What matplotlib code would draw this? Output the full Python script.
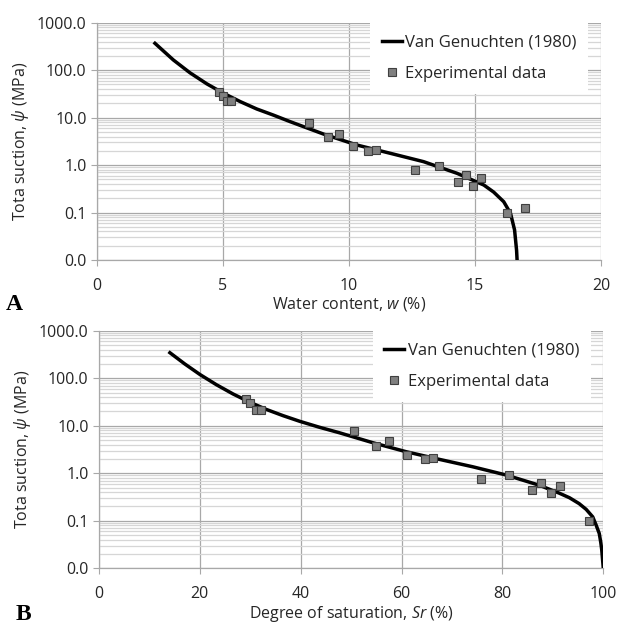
import numpy as np
import matplotlib
matplotlib.use("Agg")
import matplotlib.pyplot as plt
from matplotlib.ticker import FixedLocator, FuncFormatter, LogLocator, NullFormatter

# -----------------------------------------------------
# Data
# -----------------------------------------------------
# Panel A: suction vs water content
w_curve = [2.3, 3.03, 3.69, 4.36, 5.02, 5.68, 6.34, 7.0, 7.67, 8.99, 10.31,
           11.64, 12.96, 14.29, 15.35, 15.74, 16.14, 16.41, 16.57, 16.65, 16.67]
psi_curve_a = [368, 164, 88, 51.4, 32.6, 21.8, 15.2, 11.3, 8.2, 4.5, 2.65,
               1.77, 1.18, 0.67, 0.38, 0.27, 0.169, 0.096, 0.043, 0.016, 0.01]

w_exp = [4.85, 5.0, 5.15, 5.32, 8.4, 9.16, 9.6, 10.15, 10.75, 11.07, 12.63,
         13.57, 14.33, 14.65, 14.94, 15.24, 16.25, 17.0]
psi_exp_a = [34.7, 28.5, 22.7, 22.5, 7.8, 3.85, 4.58, 2.52, 2.0, 2.05, 0.79,
             0.95, 0.45, 0.63, 0.37, 0.54, 0.1, 0.122]

# Panel B: suction vs degree of saturation
sr_curve = [14.06, 17.0, 20.0, 23.3, 26.6, 29.9, 33.2, 36.5, 39.8, 43.7,
            47.7, 54.3, 60.9, 67.5, 74.1, 80.7, 87.3, 91.3, 93.3, 95.2,
            96.6, 97.9, 98.6, 99.2, 99.5, 99.7, 100.0]
psi_curve_b = [344, 200, 120, 72.8, 46.5, 31.3, 22.0, 16.3, 12.4, 9.3,
               7.1, 4.39, 2.84, 1.96, 1.37, 0.92, 0.56, 0.38, 0.305, 0.23,
               0.174, 0.121, 0.08, 0.054, 0.035, 0.024, 0.01]

sr_exp = [29.2, 30.0, 31.1, 32.2, 50.5, 55.0, 57.5, 61.05, 64.7, 66.3, 75.8,
          81.25, 85.9, 87.7, 89.6, 91.4, 97.2]
psi_exp_b = [36, 29.6, 21.4, 21.4, 7.85, 3.74, 4.69, 2.42, 1.96, 2.12, 0.755,
             0.916, 0.44, 0.63, 0.39, 0.546, 0.1]

y_ticks = [0.01, 0.1, 1, 10, 100, 1000]
x_ticks_a = [0, 5, 10, 15, 20]
x_ticks_b = [0, 20, 40, 60, 80, 100]

# -----------------------------------------------------
# Style
# -----------------------------------------------------
plt.rcParams["font.family"] = ["Open Sans", "DejaVu Sans"]
plt.rcParams["mathtext.fontset"] = "custom"
plt.rcParams["mathtext.rm"] = "Open Sans"
plt.rcParams["mathtext.it"] = "Open Sans:italic"

GRID_MAJOR = "#a8a8a8"
GRID_MINOR = "#d6d6d6"
TXT = "#262626"


def style_axis(ax, xticks, xmax, xlabel):
    ax.set_yscale("log")
    ax.set_ylim(0.01, 1000)
    ax.set_xlim(0, xmax)
    ax.yaxis.set_major_locator(FixedLocator(y_ticks))
    ax.yaxis.set_major_formatter(FuncFormatter(lambda v, p: f"{v:.1f}"))
    ax.yaxis.set_minor_locator(LogLocator(base=10, subs=np.arange(2, 10)))
    ax.yaxis.set_minor_formatter(NullFormatter())
    ax.set_xticks(xticks)

    ax.grid(True, which="major", axis="both", color=GRID_MAJOR, lw=0.9)
    ax.grid(True, which="minor", axis="y", color=GRID_MINOR, lw=0.9)
    ax.set_axisbelow(True)

    for side in ["top", "right"]:
        ax.spines[side].set_visible(False)
    for side in ["left", "bottom"]:
        ax.spines[side].set_color(GRID_MAJOR)
        ax.spines[side].set_linewidth(0.9)

    ax.tick_params(axis="both", which="major", length=4, color=GRID_MAJOR,
                   labelsize=11.5, labelcolor=TXT)
    ax.tick_params(axis="x", pad=9)
    ax.tick_params(axis="y", which="minor", length=0)

    ax.set_xlabel(xlabel, fontsize=11.5, color=TXT, labelpad=1)
    ax.set_ylabel(r"Tota suction, $\mathit{\psi}$ (MPa)", fontsize=11.5,
                  color=TXT, labelpad=4)

    leg = ax.legend(loc="upper right", bbox_to_anchor=(0.975, 1.0),
                    frameon=True, fancybox=False, framealpha=1,
                    edgecolor="none", facecolor="white", fontsize=12,
                    handlelength=1.2, handletextpad=0.2, labelspacing=0.95,
                    borderpad=0.7, borderaxespad=0.0)
    for t in leg.get_texts():
        t.set_color(TXT)


fig = plt.figure(figsize=(6.19, 6.26), dpi=100)

# Panel A
ax_a = fig.add_axes([97 / 619, 1 - 260 / 626, 504 / 619, 237.3 / 626])
ax_a.plot(w_curve, psi_curve_a, color="black", lw=2.5,
          label="Van Genuchten (1980)", zorder=3)
ax_a.plot(w_exp, psi_exp_a, ls="none", marker="s", ms=5.5,
          mfc="#808080", mec="#404040", mew=0.8,
          label="Experimental data", zorder=4)
style_axis(ax_a, x_ticks_a, 20, r"Water content, $w$ (%)")

# Panel B
ax_b = fig.add_axes([99 / 619, 1 - 568.3 / 626, 504.3 / 619, 237.6 / 626])
ax_b.plot(sr_curve, psi_curve_b, color="black", lw=2.5,
          label="Van Genuchten (1980)", zorder=3)
ax_b.plot(sr_exp, psi_exp_b, ls="none", marker="s", ms=5.5,
          mfc="#808080", mec="#404040", mew=0.8,
          label="Experimental data", zorder=4)
style_axis(ax_b, x_ticks_b, 100, r"Degree of saturation, $Sr$ (%)")

# panel letters
fig.text(14 / 619, 1 - 304 / 626, "A", family="Liberation Serif",
         weight="bold", fontsize=17, ha="center", va="center")
fig.text(23 / 619, 1 - 614 / 626, "B", family="Liberation Serif",
         weight="bold", fontsize=17, ha="center", va="center")

fig.savefig("out.png", dpi=100)
